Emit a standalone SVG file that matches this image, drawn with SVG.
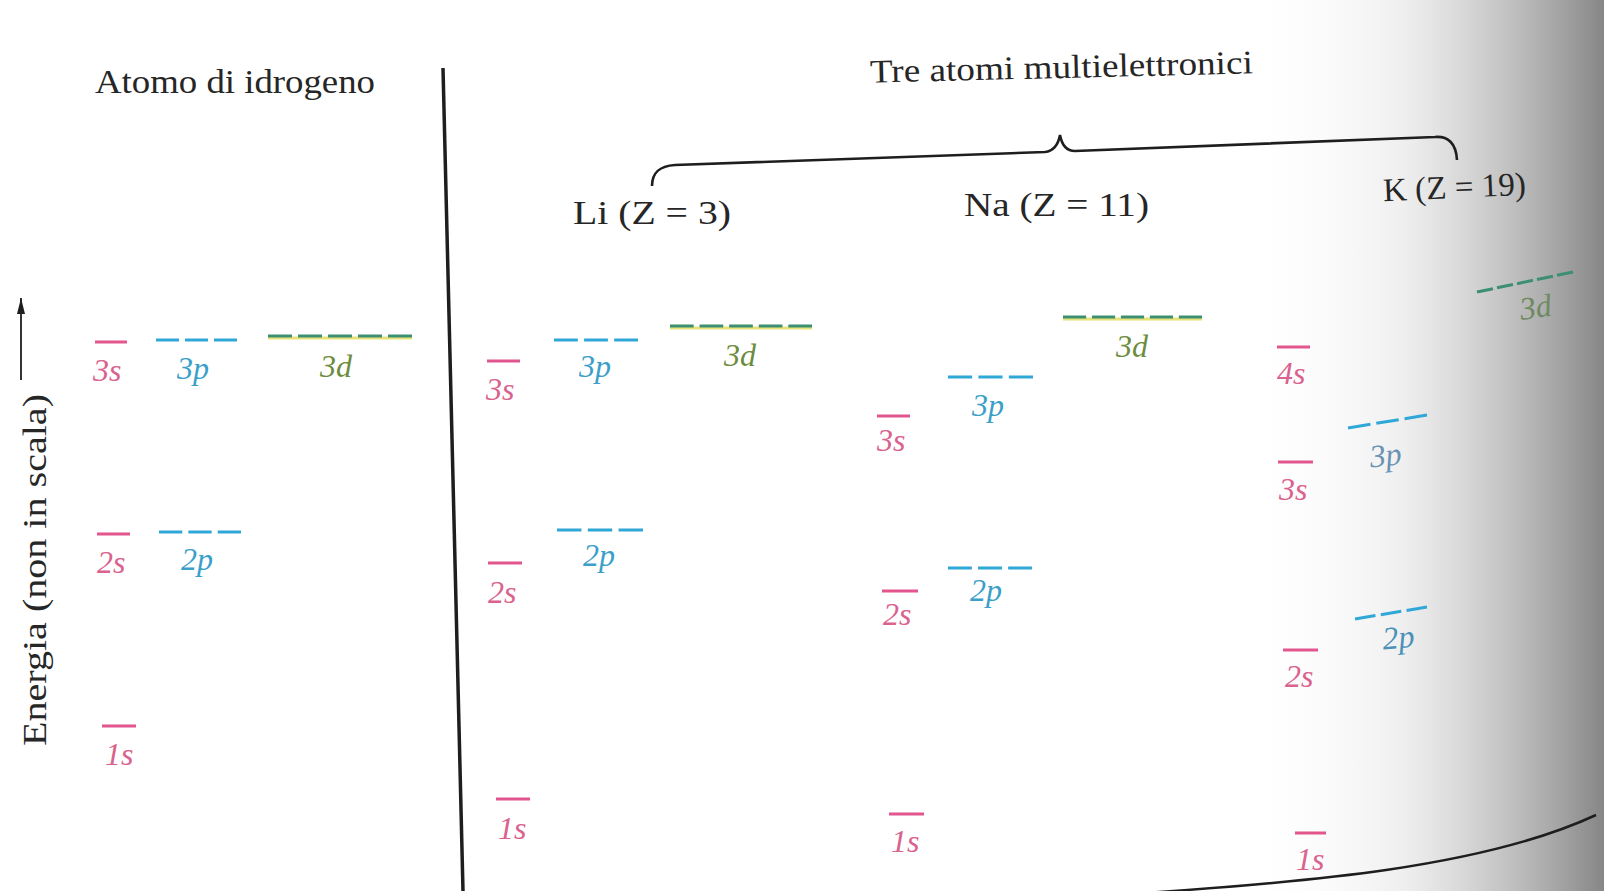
<svg xmlns="http://www.w3.org/2000/svg" width="1604" height="891" viewBox="0 0 1604 891">
<defs>
<style>
.s{stroke:#e2558d;stroke-width:3;fill:none}
.p{stroke:#2fa8d8;stroke-width:3;fill:none;stroke-dasharray:23 6}
.d{stroke:#3c8f70;stroke-width:3;fill:none;stroke-dasharray:24 6}
.dy{stroke:#e8e27a;stroke-width:3;fill:none}
.lab{font-family:"Liberation Serif","Times New Roman",serif;font-style:italic;font-size:32px}
.ls{fill:#d9628e}
.lp{fill:#3b9fca}
.ld{fill:#6d8c3e}
.t{font-family:"Liberation Serif","Times New Roman",serif;font-size:33px;fill:#262626}
.ln{stroke:#1e1e1e;fill:none}
</style>
<linearGradient id="shade" x1="0" y1="0" x2="1" y2="0">
<stop offset="0" stop-color="#ffffff" stop-opacity="0"/>
<stop offset="0.45" stop-color="#e4e4e4" stop-opacity="0.6"/>
<stop offset="1" stop-color="#868686" stop-opacity="1"/>
</linearGradient>
<marker id="ah" viewBox="0 0 20 10" refX="20" refY="5" markerWidth="20" markerHeight="8" markerUnits="userSpaceOnUse" orient="auto">
<path d="M20 5 L0 0 L0 10 Z" fill="#1e1e1e"/>
</marker>
</defs>
<rect x="0" y="0" width="1604" height="891" fill="#ffffff"/>
<rect x="1240" y="0" width="364" height="891" fill="url(#shade)"/>

<g id="titles">
<text class="t" x="95" y="93" textLength="280" lengthAdjust="spacingAndGlyphs">Atomo di idrogeno</text>
<text class="t" x="870" y="78" textLength="383" lengthAdjust="spacingAndGlyphs" transform="rotate(-1.4 1060 75)">Tre atomi multielettronici</text>
<text class="t" x="573" y="224" textLength="158" lengthAdjust="spacingAndGlyphs">Li (Z = 3)</text>
<text class="t" x="964" y="216" textLength="185" lengthAdjust="spacingAndGlyphs">Na (Z = 11)</text>
<text class="t" x="1383" y="198" textLength="143" lengthAdjust="spacingAndGlyphs" transform="rotate(-2.5 1455 190)">K (Z = 19)</text>
<text class="t" font-size="35" transform="translate(46 746) rotate(-90)" x="0" y="0" textLength="352" lengthAdjust="spacingAndGlyphs">Energia (non in scala)</text>
</g>

<g id="connectors">
<path class="ln" stroke-width="3.5" d="M443 68 L463 891"/>
<path class="ln" stroke-width="2.6" stroke="#333" d="M652 186 C652 172 660 166 675 165 L1045 152 C1053 151 1058 146 1060 135 C1062 146 1067 151 1075 151 L1435 137 C1448 136 1456 143 1457 160"/>
<path class="ln" stroke-width="1.8" d="M21 380 L21 298" marker-end="url(#ah)"/>
<path class="ln" stroke-width="2.5" d="M1145 893 C1305 882 1482 868 1596 815"/>
</g>

<g id="H-3s"><line class="s" x1="95" y1="342" x2="127" y2="342"/><text class="lab ls" x="93" y="381">3s</text></g>
<g id="H-3p"><line class="p" pathLength="81" x1="156" y1="340" x2="237" y2="340"/><text class="lab lp" x="177" y="379">3p</text></g>
<g id="H-3d"><line class="dy" x1="268" y1="338" x2="412" y2="338"/><line class="d" pathLength="144" x1="268" y1="336" x2="412" y2="336"/><text class="lab ld" x="320" y="377">3d</text></g>
<g id="H-2s"><line class="s" x1="97" y1="534" x2="130" y2="534"/><text class="lab ls" x="97" y="573">2s</text></g>
<g id="H-2p"><line class="p" pathLength="81" x1="159" y1="532" x2="241" y2="532"/><text class="lab lp" x="181" y="570">2p</text></g>
<g id="H-1s"><line class="s" x1="102" y1="726" x2="136" y2="726"/><text class="lab ls" x="105" y="765">1s</text></g>

<g id="Li-3s"><line class="s" x1="487" y1="361" x2="520" y2="361"/><text class="lab ls" x="486" y="400">3s</text></g>
<g id="Li-3p"><line class="p" pathLength="81" x1="554" y1="340" x2="638" y2="340"/><text class="lab lp" x="579" y="377">3p</text></g>
<g id="Li-3d"><line class="dy" x1="670" y1="328" x2="812" y2="328"/><line class="d" pathLength="144" x1="670" y1="326" x2="812" y2="326"/><text class="lab ld" x="724" y="366">3d</text></g>
<g id="Li-2s"><line class="s" x1="488" y1="563" x2="522" y2="563"/><text class="lab ls" x="488" y="603">2s</text></g>
<g id="Li-2p"><line class="p" pathLength="81" x1="557" y1="530" x2="643" y2="530"/><text class="lab lp" x="583" y="566">2p</text></g>
<g id="Li-1s"><line class="s" x1="496" y1="799" x2="530" y2="799"/><text class="lab ls" x="498" y="839">1s</text></g>

<g id="Na-3s"><line class="s" x1="877" y1="416" x2="910" y2="416"/><text class="lab ls" x="877" y="451">3s</text></g>
<g id="Na-3p"><line class="p" pathLength="81" x1="948" y1="377" x2="1033" y2="377"/><text class="lab lp" x="972" y="416">3p</text></g>
<g id="Na-3d"><line class="dy" x1="1063" y1="319" x2="1202" y2="319"/><line class="d" pathLength="144" x1="1063" y1="317" x2="1202" y2="317"/><text class="lab ld" x="1116" y="357">3d</text></g>
<g id="Na-2s"><line class="s" x1="882" y1="591" x2="918" y2="591"/><text class="lab ls" x="883" y="625">2s</text></g>
<g id="Na-2p"><line class="p" pathLength="81" x1="948" y1="568" x2="1032" y2="568"/><text class="lab lp" x="970" y="601">2p</text></g>
<g id="Na-1s"><line class="s" x1="889" y1="814" x2="924" y2="814"/><text class="lab ls" x="891" y="852">1s</text></g>

<g id="K-4s"><line class="s" x1="1277" y1="347" x2="1310" y2="347"/><text class="lab ls" x="1277" y="384">4s</text></g>
<g id="K-3d"><line class="d" stroke="#2f8a55" pathLength="144" x1="1477" y1="292" x2="1573" y2="272"/><text class="lab" fill="#6d8a60" font-size="24" x="1520" y="318" transform="rotate(-8 1535 310)">3d</text></g>
<g id="K-3p"><line class="p" pathLength="81" x1="1348" y1="428" x2="1427" y2="415"/><text class="lab" fill="#6a92b4" x="1370" y="466" transform="rotate(-6 1385 460)">3p</text></g>
<g id="K-3s"><line class="s" x1="1278" y1="462" x2="1313" y2="462"/><text class="lab ls" x="1279" y="500">3s</text></g>
<g id="K-2p"><line class="p" pathLength="81" x1="1355" y1="619" x2="1427" y2="607"/><text class="lab" fill="#4a90b8" x="1382" y="648" transform="rotate(-5 1400 635)">2p</text></g>
<g id="K-2s"><line class="s" x1="1283" y1="650" x2="1318" y2="650"/><text class="lab ls" x="1285" y="687">2s</text></g>
<g id="K-1s"><line class="s" x1="1295" y1="833" x2="1326" y2="833"/><text class="lab ls" x="1296" y="870">1s</text></g>
</svg>
